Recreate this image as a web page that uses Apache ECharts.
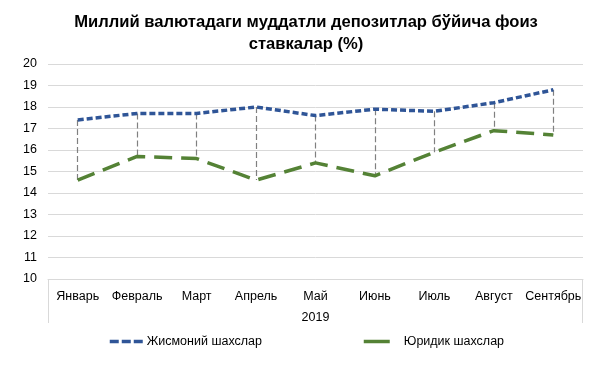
<!DOCTYPE html>
<html><head><meta charset="utf-8">
<script src="https://cdn.jsdelivr.net/npm/echarts@6/dist/echarts.min.js"></script>
<style>html,body{margin:0;padding:0;background:#fff}#c{width:601px;height:368px}</style>
</head><body><div id="c"></div>
<script>
var categories = ['Январь','Февраль','Март','Апрель','Май','Июнь','Июль','Август','Сентябрь'];
var physical = [17.4, 17.7, 17.7, 18.0, 17.6, 17.9, 17.8, 18.2, 18.8];
var legal = [14.6, 15.7, 15.6, 14.6, 15.4, 14.8, 15.9, 16.9, 16.7];
var yTicks = [10, 20, 1];
var FONT = 'Liberation Sans, Arial, sans-serif';

var chart = echarts.init(document.getElementById('c'));
var dropLines = categories.map(function (c, i) {
  return [{coord: [c, physical[i]]}, {coord: [c, legal[i]]}];
});
var L = 48, R = 583, T = 64, B = 279;
chart.setOption({
  animation: false,
  textStyle: {fontFamily: FONT},
  title: {
    text: 'Миллий валютадаги муддатли депозитлар бўйича фоиз\nставкалар (%)',
    left: 301, top: 6, textAlign: 'center',
    textStyle: {fontFamily: FONT, fontSize: 16.6, fontWeight: 'bold', color: '#000', lineHeight: 22}
  },
  legend: [{
    data: [{name: 'Жисмоний шахслар', lineStyle: {type: [9, 3], width: 3.5}}],
    left: 103, top: 330, itemWidth: 35, itemHeight: 4, itemGap: 2,
    textStyle: {fontFamily: FONT, fontSize: 12.5, color: '#000', padding: [0, 0, 0, -3]}
  }, {
    data: [{name: 'Юридик шахслар', lineStyle: {type: 'solid', width: 3.5}}],
    left: 357, top: 330, itemWidth: 26, itemHeight: 4, itemGap: 10,
    textStyle: {fontFamily: FONT, fontSize: 12.5, color: '#000', padding: [0, 0, 0, 9]}
  }],
  grid: {left: L, right: 601 - R, top: T, bottom: 368 - B},
  xAxis: {
    type: 'category', data: categories, boundaryGap: true,
    axisLine: {lineStyle: {color: '#d9d9d9'}},
    axisTick: {show: false},
    axisLabel: {color: '#000', fontSize: 12.5, fontFamily: FONT, margin: 11, interval: 0},
    name: '2019', nameLocation: 'middle', nameGap: 32,
    nameTextStyle: {color: '#000', fontSize: 12.5, fontFamily: FONT}
  },
  yAxis: {
    type: 'value', min: yTicks[0], max: yTicks[1], interval: yTicks[2],
    axisLine: {show: false}, axisTick: {show: false},
    splitLine: {lineStyle: {color: '#d9d9d9'}},
    axisLabel: {color: '#000', fontSize: 12.5, fontFamily: FONT, margin: 11}
  },
  graphic: [
    {type: 'line', shape: {x1: L + 0.5, y1: B, x2: L + 0.5, y2: 323}, style: {stroke: '#d9d9d9', lineWidth: 1}},
    {type: 'line', shape: {x1: R - 0.5, y1: B, x2: R - 0.5, y2: 323}, style: {stroke: '#d9d9d9', lineWidth: 1}}
  ],
  series: [{
    name: 'Жисмоний шахслар', type: 'line', data: physical,
    symbol: 'none', z: 3,
    lineStyle: {color: '#2F5597', width: 3.5, type: [6, 3]},
    itemStyle: {color: '#2F5597'},
    markLine: {
      silent: true, symbol: 'none', z: 1,
      label: {show: false},
      lineStyle: {color: '#808080', width: 1.2, type: [6, 3]},
      data: dropLines
    }
  }, {
    name: 'Юридик шахслар', type: 'line', data: legal,
    symbol: 'none', z: 3,
    lineStyle: {color: '#548235', width: 3.5, type: [18, 9]},
    itemStyle: {color: '#548235'}
  }]
});
</script></body></html>
